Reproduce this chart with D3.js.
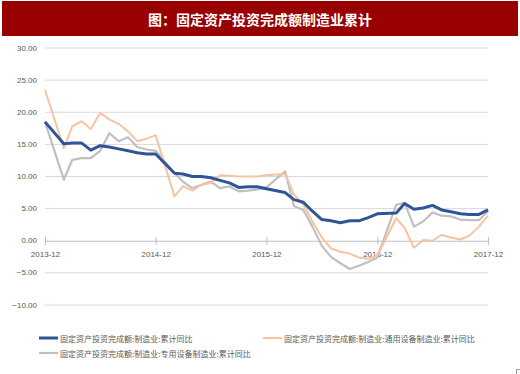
<!DOCTYPE html>
<html>
<head>
<meta charset="utf-8">
<script src="https://cdn.jsdelivr.net/npm/d3@7"></script>
<style>
  body { margin: 0; background: #fff; }
  svg { display: block; }
  text { font-family: "Liberation Sans", Arial, "Noto Sans CJK SC", sans-serif; }
  .cjk { font-family: "Noto Sans CJK SC", sans-serif; }
</style>
</head>
<body>
<div class="chart"></div>
<script>
// months: Dec 2013, then Feb..Dec of each year (Jan is merged into Feb)
var months = ["2013-12",
  "2014-02","2014-03","2014-04","2014-05","2014-06","2014-07","2014-08","2014-09","2014-10","2014-11","2014-12",
  "2015-02","2015-03","2015-04","2015-05","2015-06","2015-07","2015-08","2015-09","2015-10","2015-11","2015-12",
  "2016-02","2016-03","2016-04","2016-05","2016-06","2016-07","2016-08","2016-09","2016-10","2016-11","2016-12",
  "2017-02","2017-03","2017-04","2017-05","2017-06","2017-07","2017-08","2017-09","2017-10","2017-11","2017-12"];

// 制造业:累计同比
var mfg = [18.5,
  15.1,15.2,15.2,14.1,14.8,14.6,14.3,14.0,13.7,13.5,13.5,
  10.5,10.4,10.0,10.0,9.8,9.4,9.0,8.3,8.4,8.4,8.1,
  7.5,6.4,6.0,4.6,3.3,3.1,2.8,3.1,3.1,3.6,4.2,
  4.3,5.8,4.9,5.1,5.5,4.8,4.5,4.2,4.1,4.1,4.8];

// 通用设备制造业:累计同比
var general = [23.5,
  14.4,17.8,18.6,17.4,19.9,18.9,18.2,17.0,15.5,15.9,16.4,
  6.9,8.5,7.8,8.7,9.0,10.2,10.1,10.0,10.0,10.0,10.2,
  10.4,7.2,5.6,3.0,0.5,-1.2,-1.7,-2.0,-2.6,-2.8,-2.3,
  3.5,2.0,-1.1,0.1,0.0,0.9,0.5,0.2,0.8,2.2,3.9];

// 专用设备制造业:累计同比
var special = [18.5,
  9.5,12.6,12.85,12.85,14.0,16.75,15.5,16.1,14.6,14.2,14.0,
  10.5,9.2,8.2,8.7,9.2,8.2,8.45,7.7,7.8,8.0,8.3,
  10.8,5.4,4.8,2.2,-0.8,-2.5,-3.5,-4.4,-3.9,-3.3,-2.6,
  5.6,5.9,2.2,3.0,4.4,3.9,3.8,3.3,3.2,3.2,4.6];

var yTicks = [-10,-5,0,5,10,15,20,25,30];
var xTicks = ["2013-12","2014-12","2015-12","2016-12","2017-12"];

var title = "图：固定资产投资完成额制造业累计";
var seriesNames = ["固定资产投资完成额:制造业:累计同比",
                   "固定资产投资完成额:制造业:通用设备制造业:累计同比",
                   "固定资产投资完成额:制造业:专用设备制造业:累计同比"];

var width = 520, height = 374;
var parse = d3.timeParse("%Y-%m");

var svg = d3.select(".chart").append("svg")
  .attr("width", width)
  .attr("height", height);

// title banner
svg.append("rect")
  .attr("x", 2).attr("y", 1)
  .attr("width", 516).attr("height", 35)
  .attr("fill", "#990000");
svg.append("text")
  .attr("class", "cjk")
  .attr("x", 260).attr("y", 19)
  .attr("text-anchor", "middle")
  .attr("dominant-baseline", "central")
  .attr("fill", "#fff")
  .attr("font-size", "14px")
  .attr("font-weight", "bold")
  .text(title);

var x = d3.scaleTime()
  .domain([parse("2013-12"), parse("2017-12")])
  .range([45, 488]);
var y = d3.scaleLinear()
  .domain([-10, 30])
  .range([305, 48]);

// grid lines
svg.append("g").selectAll("line")
  .data(yTicks.filter(function(d){ return d !== 0; }))
  .enter().append("line")
  .attr("x1", 45).attr("x2", 488)
  .attr("y1", function(d){ return y(d); })
  .attr("y2", function(d){ return y(d); })
  .attr("stroke", "#d9d9d9")
  .attr("stroke-width", 1);

// y labels
svg.append("g").selectAll("text")
  .data(yTicks)
  .enter().append("text")
  .attr("x", 37)
  .attr("y", function(d){ return y(d); })
  .attr("text-anchor", "end")
  .attr("dominant-baseline", "central")
  .attr("font-size", "8px")
  .attr("fill", "#595959")
  .text(function(d){ return d3.format(".2f")(d); });

// x axis on zero line
var xAxis = d3.axisBottom(x)
  .tickValues(xTicks.map(parse))
  .tickFormat(d3.timeFormat("%Y-%m"))
  .tickSizeInner(4)
  .tickSizeOuter(0);
var gx = svg.append("g")
  .attr("transform", "translate(0," + y(0) + ")")
  .call(xAxis);
gx.select(".domain").attr("stroke", "#bfbfbf");
gx.selectAll(".tick line").attr("stroke", "#bfbfbf").attr("y1", -4).attr("y2", 4);
gx.selectAll(".tick text")
  .attr("y", 11)
  .attr("font-size", "8px")
  .attr("font-family", "Liberation Sans, Arial, sans-serif")
  .attr("fill", "#595959");

var line = d3.line()
  .x(function(d){ return x(parse(d.m)); })
  .y(function(d){ return y(d.v); });

function pts(vals) {
  return months.map(function(m, i){ return {m: m, v: vals[i]}; });
}

var series = [
  {vals: special, color: "#c0c0c0", w: 2.2},
  {vals: general, color: "#f7c3a0", w: 2},
  {vals: mfg, color: "#2f5597", w: 3}
];
svg.append("g").selectAll("path")
  .data(series)
  .enter().append("path")
  .attr("d", function(d){ return line(pts(d.vals)); })
  .attr("fill", "none")
  .attr("stroke", function(d){ return d.color; })
  .attr("stroke-width", function(d){ return d.w; })
  .attr("stroke-linejoin", "round");

// legend
var legendItems = [
  {name: seriesNames[0], color: "#2f5597", w: 3, lx: 39, ly: 338},
  {name: seriesNames[1], color: "#f7c3a0", w: 2, lx: 263, ly: 338},
  {name: seriesNames[2], color: "#c0c0c0", w: 2.2, lx: 39, ly: 353}
];
var legend = svg.selectAll(".legend")
  .data(legendItems)
  .enter().append("g")
  .attr("class", "legend")
  .attr("transform", function(d){ return "translate(" + d.lx + "," + d.ly + ")"; });
legend.append("line")
  .attr("x1", 0).attr("x2", 19)
  .attr("stroke", function(d){ return d.color; })
  .attr("stroke-width", function(d){ return d.w; });
legend.append("text")
  .attr("class", "cjk")
  .attr("x", 21)
  .attr("dominant-baseline", "central")
  .attr("font-size", "8px")
  .attr("fill", "#595959")
  .text(function(d){ return d.name; });

// little corner mark
svg.append("path")
  .attr("d", "M516.5,374V369.5H520")
  .attr("fill", "none")
  .attr("stroke", "#999")
  .attr("stroke-width", 1);
</script>
</body>
</html>
